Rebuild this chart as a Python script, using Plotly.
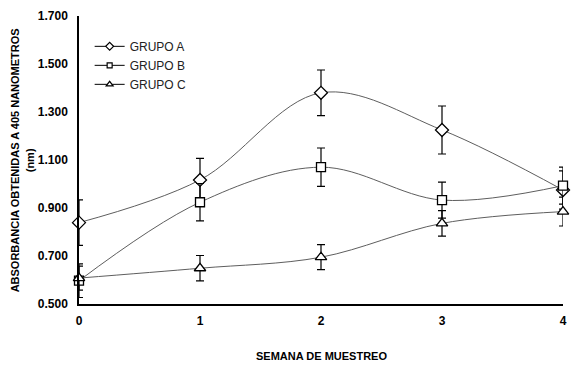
import plotly.graph_objects as go

semanas = [0, 1, 2, 3, 4]
grupo_a = [0.839, 1.017, 1.380, 1.225, 0.975]
grupo_a_err = [0.095, 0.090, 0.095, 0.100, 0.080]
grupo_b = [0.597, 0.924, 1.070, 0.933, 0.993]
grupo_b_err = [0.070, 0.078, 0.080, 0.075, 0.077]
grupo_c = [0.608, 0.649, 0.695, 0.836, 0.885]
grupo_c_err = [0.050, 0.053, 0.052, 0.053, 0.060]
y_ticks = [0.5, 0.7, 0.9, 1.1, 1.3, 1.5, 1.7]
x_ticks = [0, 1, 2, 3, 4]

series = [
    ("GRUPO A", grupo_a, grupo_a_err, "diamond", 10, 6),
    ("GRUPO B", grupo_b, grupo_b_err, "square", 9, 5),
    ("GRUPO C", grupo_c, grupo_c_err, "triangle-up", 10, 6),
]

fig = go.Figure()
for name, vals, errs, sym, size, lsize in series:
    fig.add_trace(go.Scatter(
        x=semanas, y=vals, mode="lines+markers", name=name, showlegend=False,
        line=dict(color="#5e5e5e", width=1, shape="spline", smoothing=1),
        marker=dict(symbol=sym, size=size, color="white",
                    line=dict(color="black", width=1.3)),
        error_y=dict(type="data", array=errs, visible=True, color="black",
                     thickness=1.2, width=4),
        cliponaxis=False,
    ))
for name, vals, errs, sym, size, lsize in series:
    fig.add_trace(go.Scatter(
        x=[None], y=[None], mode="lines+markers", name=name,
        line=dict(color="black", width=1),
        marker=dict(symbol=sym, size=lsize, color="white",
                    line=dict(color="black", width=1.2)),
    ))

fig.update_layout(
    width=579, height=369,
    margin=dict(l=79, r=16, t=16, b=65, autoexpand=False),
    paper_bgcolor="white", plot_bgcolor="white",
    font=dict(family="Liberation Sans, Arial, sans-serif", color="black"),
    showlegend=True,
    legend=dict(x=0.022, y=0.945, xanchor="left", yanchor="top",
                bgcolor="rgba(0,0,0,0)", font=dict(size=12, color="#222"),
                itemwidth=30, tracegroupgap=0),
    xaxis=dict(range=[0, 4], tickvals=x_ticks, ticktext=[str(v) for v in x_ticks],
               showgrid=False, zeroline=False, showline=True, linecolor="black",
               linewidth=1.5, ticks="", ticklabelstandoff=5, automargin=False,
               tickfont=dict(size=12, weight="bold")),
    yaxis=dict(range=[0.5, 1.7], tickvals=y_ticks,
               ticktext=[f"{v:.3f}" for v in y_ticks],
               showgrid=False, zeroline=False, showline=True, linecolor="black",
               linewidth=1.5, ticks="", ticklabelstandoff=7, automargin=False,
               tickfont=dict(size=12, weight="bold")),
    annotations=[
        dict(text="ABSORBANCIA OBTENIDAS A 405 NANOMETROS<br>(nm)",
             xref="paper", yref="paper", x=-0.117, y=0.5,
             xanchor="center", yanchor="middle", textangle=-90, showarrow=False,
             font=dict(size=11, weight="bold")),
        dict(text="SEMANA DE MUESTREO", xref="paper", yref="paper",
             x=0.5, y=-0.182, xanchor="center", yanchor="middle",
             showarrow=False, font=dict(size=11, weight="bold")),
    ],
)

fig.write_html("out.html", config={"displayModeBar": False},
               post_script="document.body.style.margin='0';")
